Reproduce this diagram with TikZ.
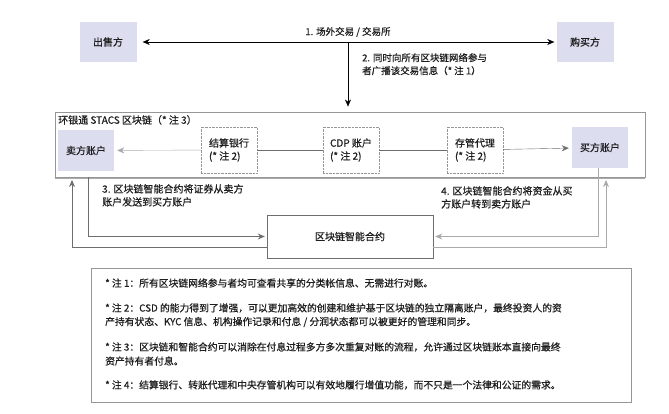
\documentclass[tikz,border=0pt]{standalone}
\usepackage{fontspec}
\setmainfont{Noto Sans CJK SC}[FakeBold=0.6]
\usetikzlibrary{arrows.meta,positioning}
\definecolor{partyfill}{RGB}{220,222,240}
\definecolor{framegray}{RGB}{150,150,150}
\definecolor{linegray}{RGB}{110,110,110}
\definecolor{loopgray}{RGB}{170,170,170}
\definecolor{textdark}{RGB}{30,30,30}
\begin{document}
\begin{tikzpicture}[
        x=1pt, y=-1pt,
        every node/.style={text=textdark},
        party_style/.style={fill=partyfill, minimum width=57pt, minimum height=40pt, inner sep=0pt, font=\fontsize{10}{12}\selectfont},
        account_style/.style={fill=partyfill, minimum width=56pt, minimum height=41pt, inner sep=0pt, font=\fontsize{10}{12}\selectfont},
        agent_style/.style={draw=framegray, densely dotted, minimum width=56pt, minimum height=46pt, inner sep=0pt, align=left, font=\fontsize{10}{13}\selectfont},
        frame_style/.style={draw=framegray, line width=0.9pt},
        label_style/.style={align=left, inner sep=0pt, font=\fontsize{9.5}{13}\selectfont},
        note_style/.style={anchor=west, inner sep=0pt, font=\fontsize{9.8}{12}\selectfont},
        arrow_style/.style={black, -{Stealth[length=7pt,width=6pt]}},
        inner_style/.style={linegray, thin},
        loop_style/.style={linegray, thick}
    ]
        \useasboundingbox (0,0) rectangle (669,414);

        % Parties
        \node[party_style] (seller) at (108,42) {出售方};
        \node[party_style] (buyer) at (585,42) {购买方};

        % STACS chain
        \node[frame_style, minimum width=590pt, minimum height=65pt, inner sep=0pt] (stacs) at (350,144.5) {};
        \draw[loopgray, line width=1.2pt] ([yshift=-1pt]stacs.south west) -- ([yshift=-1pt]stacs.south east);
        \node[label_style, anchor=north west, font=\fontsize{10}{12}\selectfont] (stacs_title) at (58,115) {环银通 STACS 区块链（* 注 3）};
        \node[account_style] (seller_acc) at (86,150.5) {卖方账户};
        \node[agent_style] (bank) at (229,150) {结算银行\\(* 注 2)};
        \node[agent_style] (cdp) at (351,150) {CDP 账户\\(* 注 2)};
        \node[agent_style] (custody) at (475,150) {存管代理\\(* 注 2)};
        \node[account_style] (buyer_acc) at (600,147.5) {买方账户};

        % Smart contract
        \node[draw=linegray, minimum width=166pt, minimum height=43pt, inner sep=0pt, font=\fontsize{10}{12}\selectfont] (contract) at (350,236.5) {区块链智能合约};

        % Trade and broadcast
        \coordinate (split) at (348,42);
        \draw[arrow_style, {Stealth[length=7pt,width=6pt]}-{Stealth[length=7pt,width=6pt]}, shorten <=6pt, shorten >=2pt] (seller) -- (buyer);
        \draw[arrow_style, shorten >=5pt] (split) -- (stacs.north -| split);
        \node[label_style, anchor=south] (trade_label) at (348,37) {1. 场外交易 / 交易所};
        \node[label_style, anchor=north west] (broadcast_label) at (362,53) {2. 同时向所有区块链网络参与\\者广播该交易信息（* 注 1）};

        % Chain links
        \draw[inner_style, loopgray, -{Stealth[length=7pt,width=6pt]}, shorten >=3pt] (bank) -- (seller_acc);
        \draw[inner_style] (bank) -- (cdp);
        \draw[inner_style] (cdp) -- (custody);
        \draw[inner_style, -{Stealth[length=7pt,width=6pt]}, shorten >=3pt] (custody) -- (buyer_acc);

        % Settlement loops
        \coordinate (left_in) at (88,177);
        \coordinate (left_out) at (72,180);
        \coordinate (right_out) at (606,180);
        \draw[loop_style, -{Stealth[length=7pt,width=6pt]}, shorten >=2pt] (left_in) |- (contract.west);
        \draw[loop_style, -{Stealth[length=7pt,width=6pt]}] ([yshift=-11pt]contract.west) -| (left_out);
        \draw[loop_style, loopgray, -{Stealth[length=7pt,width=6pt]}, shorten >=2pt] ([xshift=-2pt]buyer_acc.south) |- (contract.east);
        \draw[loop_style, loopgray, -{Stealth[length=7pt,width=6pt]}] ([yshift=-11pt]contract.east) -| (right_out);
        \node[label_style, anchor=north west, font=\fontsize{10}{13}\selectfont] (securities_label) at (102,184) {3. 区块链智能合约将证券从卖方\\账户发送到买方账户};
        \node[label_style, anchor=north west, font=\fontsize{10}{13}\selectfont] (cash_label) at (441,186) {4. 区块链智能合约将资金从买\\方账户转到卖方账户};

        % Notes
        \node[frame_style, minimum width=540pt, minimum height=134pt, inner sep=0pt] (notes) at (361,335) {};
        \node[note_style] (note1) at (105,283) {* 注 1：所有区块链网络参与者均可查看共享的分类帐信息、无需进行对账。};
        \node[note_style] (note2a) at (105,308) {* 注 2：CSD 的能力得到了增强，可以更加高效的创建和维护基于区块链的独立隔离账户，最终投资人的资};
        \node[note_style] (note2b) at (105,322) {产持有状态、KYC 信息、机构操作记录和付息 / 分润状态都可以被更好的管理和同步。};
        \node[note_style] (note3a) at (105,347) {* 注 3：区块链和智能合约可以消除在付息过程多方多次重复对账的流程，允许通过区块链账本直接向最终};
        \node[note_style] (note3b) at (105,361) {资产持有者付息。};
        \node[note_style] (note4) at (105,385) {* 注 4：结算银行、转账代理和中央存管机构可以有效地履行增值功能，而不只是一个法律和公证的需求。};
    \end{tikzpicture}
\end{document}
